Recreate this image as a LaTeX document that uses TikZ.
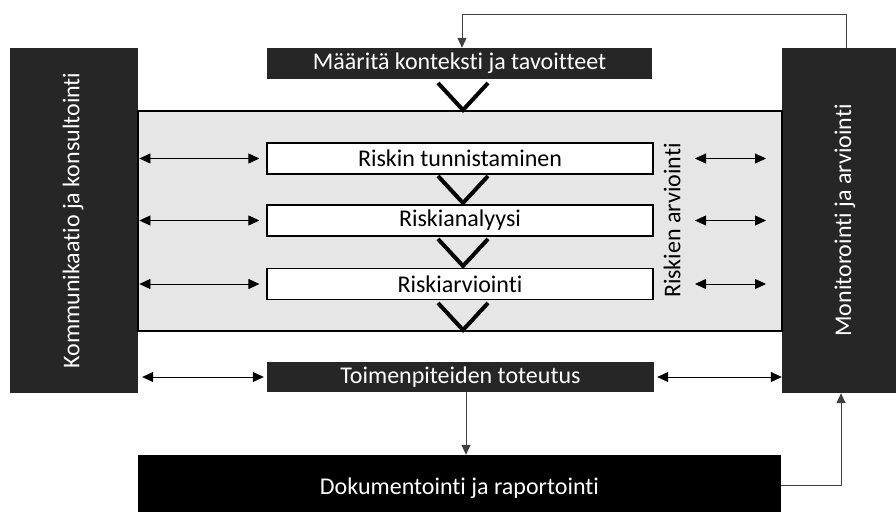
\documentclass[tikz,border=0pt]{standalone}
\usepackage{fontspec}
\setmainfont[RawFeature=-liga]{Carlito}
\usetikzlibrary{arrows.meta}
\definecolor{darkbox}{HTML}{262626}
\definecolor{grayarea}{HTML}{E6E6E6}
\begin{document}
\begin{tikzpicture}[x=1pt,y=-1pt,
  txt/.style={font=\fontsize{24}{27}\selectfont},
  darkbox/.style={fill=darkbox,draw=none,text=white,txt,inner sep=0pt},
  whitebox/.style={fill=white,draw=black,line width=1.2pt,txt,inner sep=0pt,minimum width=386pt,minimum height=31pt},
  chev/.style={line width=4pt},
  dbl/.style={{Triangle[length=11pt,width=10pt]}-{Triangle[length=11pt,width=10pt]},line width=0.8pt},
  single/.style={-{Triangle[length=10pt,width=9pt]},line width=0.8pt,draw=black!75}
]
\useasboundingbox (0,0) rectangle (896,512);
% side boxes
\node[darkbox,minimum width=128pt,minimum height=345pt] (komm) at (74,220.5) {};
\node[rotate=90,text=white,txt] (kommt) at (73,220.5) {Kommunikaatio ja konsultointi};
\node[darkbox,minimum width=114pt,minimum height=345pt] (moni) at (839,220.5) {};
\node[rotate=90,text=white,txt] (monit) at (845,220.5) {Monitorointi ja arviointi};
% gray area
\node[fill=grayarea,draw=black,line width=1.2pt,minimum width=644pt,minimum height=220pt,inner sep=0pt] (area) at (460,221) {};
\node[rotate=90,txt] (rarv) at (672,220.5) {Riskien arviointi};
% top box
\node[darkbox,minimum width=385pt,minimum height=31pt] (maar) at (459.5,63.5) {Määritä konteksti ja tavoitteet};
% white boxes
\node[whitebox] (r1) at (460,158.5) {Riskin tunnistaminen};
\node[whitebox] (r2) at (460,220.5) {Riskianalyysi};
\node[whitebox] (r3) at (460,284) {Riskiarviointi};
% action box
\node[darkbox,minimum width=387pt,minimum height=30pt] (toim) at (460.5,377) {Toimenpiteiden toteutus};
% documentation
\node[fill=black,text=white,txt,inner sep=0pt,minimum width=643pt,minimum height=57pt,text depth=0pt] (dok) at (459.5,483.5) {\raisebox{-5pt}{Dokumentointi ja raportointi}};
% chevrons
\foreach \t in {110,203,266,330}{
  \draw[chev] (438,\t-27) -- (463,\t) -- (488,\t-27);
}
% double arrows
\foreach \n in {r1,r2,r3}{
  \coordinate (L\n) at ([xshift=-7pt]\n.west);
  \draw[dbl] (L\n -| area.west) ++(2,0) -- (L\n);
  \coordinate (R\n) at (766,0 |- \n);
  \draw[dbl] (R\n) ++(-71,0) -- (R\n);
}
\coordinate (Lt) at ([xshift=-3pt]toim.west);
\draw[dbl] (Lt -| komm.east) ++(4,0) -- (Lt);
\coordinate (Rt) at ([xshift=3pt]toim.east);
\draw[dbl] (Rt) -- (Rt -| moni.west);
% feedback loop
\coordinate (fb) at (846,14);
\draw[single,line width=1pt] (moni.north -| fb) -- (fb) -- (fb -| 462,0) -- (462,0 |- maar.north);
% down arrow
\draw[single] (466,0 |- toim.south) -- (466,0 |- dok.north);
% doc to monitoring
\coordinate (dm) at (841,485);
\draw[single] (dm -| dok.east) -- (dm) -- (dm |- moni.south);
\end{tikzpicture}
\end{document}
